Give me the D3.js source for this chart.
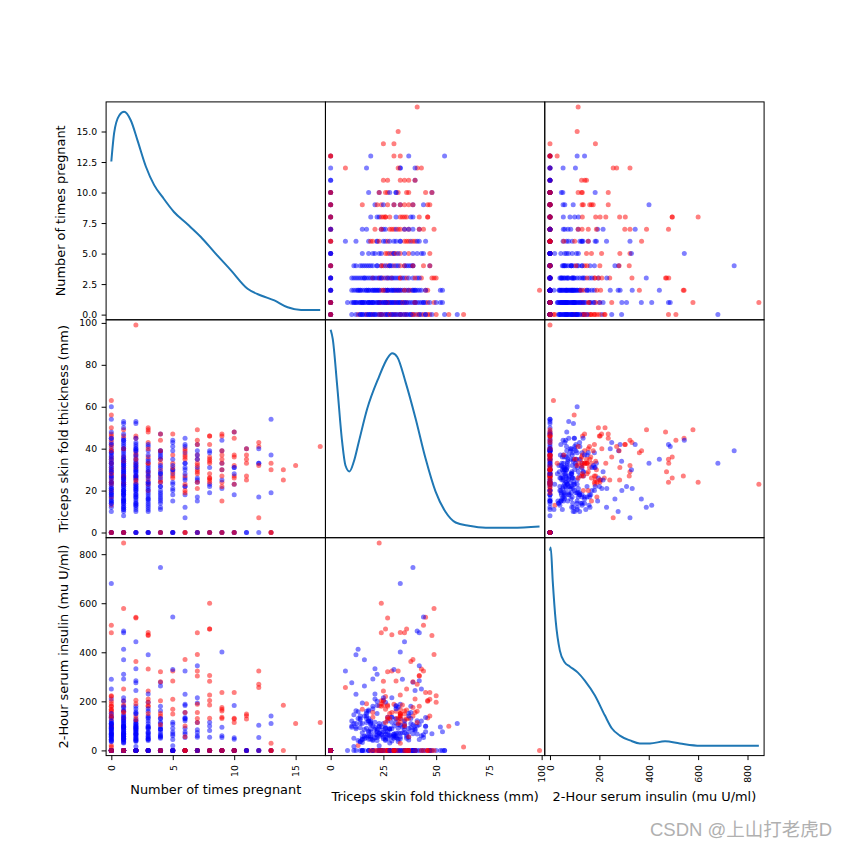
<!DOCTYPE html>
<html><head><meta charset="utf-8">
<script src="https://cdn.jsdelivr.net/npm/d3@7/dist/d3.min.js"></script>
<style>body{margin:0;background:#fff}svg{display:block}</style>
</head><body><svg id="c" width="849" height="849"></svg>
<script>
// ---------------- DATA ----------------
const variables = ["Number of times pregnant", "Triceps skin fold thickness (mm)", "2-Hour serum insulin (mu U/ml)"];
const pregValues = [0,1,2,3,4,5,6,7,8,9,10,11,12,13,14,15,17];
const skinGroups = [
  [10,13,14,15,16,17,18,19,20,21,22,23,24,25,26,27,28,29,30,31,32,33,34,35,36,37,38,39,40,41,42,43,44,45,46,47,48,50,54,56,60,63,31,26,36,18,23,28,33,12,20,27,35,42,17,30,24,39,15,14,19,24,29,33,38,45,21,0,0,0,0,0,0],
  [8,10,11,12,13,14,15,16,17,18,19,20,21,22,23,23,24,25,26,27,28,29,30,31,32,33,34,35,36,37,38,39,40,41,42,43,44,45,46,47,49,50,52,53,16,19,22,27,30,34,25,12,15,18,24,29,35,20,31,40,27,14,36,26,32,11,15,18,23,26,33,40,44,20,28,0,0,0,0,0,0],
  [10,12,13,14,15,17,18,19,20,21,22,23,24,25,26,27,28,29,30,31,32,33,34,35,36,38,39,40,41,42,43,45,46,52,53,99,16,20,26,29,33,37,11,23,18,22,27,30,35,40,25,31,14,37,13,17,21,27,32,39,45,0,0,0,0],
  [10,11,12,13,15,16,18,19,20,22,23,24,25,26,27,28,29,30,32,33,35,36,39,41,43,48,49,50,17,21,31,14,24,29,37,33,20,27,40,16,23,34,42,0,0,0,0],
  [11,12,15,16,18,20,22,24,24,25,27,28,30,33,35,37,38,39,39,39,44,47,47,22,29,32,19,14,26,31,35,17,28,36,0,0,0,0],
  [18,21,23,26,28,29,30,30,31,33,37,39,43,44,47,24,27,41,20,35,15,32,0,0,0,0],
  [7,12,18,19,22,22,26,27,28,30,31,33,35,36,38,39,40,41,42,45,23,20,33,25,37,0,0,0],
  [15,17,21,25,26,28,30,31,32,33,39,42,42,44,35,49,37,37,24,24,35,29,0,0,0,0],
  [19,23,24,25,26,26,28,31,33,34,36,38,39,42,46,35,46,22,0,0,0,0],
  [15,21,22,24,25,27,30,30,33,33,35,37,39,39,44,46,47,0,0,0,0],
  [18,23,23,26,27,28,31,32,36,37,45,48,48,31,0,0,0,0],
  [25,27,33,35,37,40,40,0,0],
  [7,17,33,33,41,40,32,43,0],
  [19,30,33,37,54,0,0,0],
  [25,30],
  [32],
  [41]
];
const insulinGroups = [
  [120,20,140,0,58,190,0,105,135,210,62,0,480,54,220,0,150,88,0,130,45,680,290,0,165,75,110,0,100,160,180,250,510,0,200,0,68,223,0,98,110,14,0,90,0,120,70,0,168,94,40,135,85,105,150,66,180,140,110,35,45,82,38,55,92,76,66,0,0,0,0,0,0],
  [0,100,145,0,412,36,0,370,160,0,56,291,85,310,846,0,202,48,0,120,64,215,0,160,70,130,94,0,250,42,180,105,0,487,480,60,0,99,132,0,579,0,0,76,140,120,200,0,50,0,110,88,72,165,66,135,96,44,112,155,185,125,58,94,176,50,32,78,58,44,70,86,64,100,30,0,0,0,0,0,0],
  [276,110,158,0,45,130,0,60,180,333,0,70,190,0,40,540,88,55,0,0,105,140,0,443,66,362,0,244,0,284,120,543,0,95,0,0,85,0,75,0,48,0,16,110,120,150,64,100,125,82,205,170,92,150,40,90,52,78,36,68,98,0,0,0,0],
  [94,0,390,130,55,0,160,76,0,40,182,0,242,196,180,88,472,58,0,481,120,0,0,100,332,468,0,196,140,230,70,110,64,135,90,150,170,48,210,48,96,72,44,0,0,0,0],
  [110,162,0,263,58,0,87,96,0,202,321,0,0,150,0,54,130,746,278,280,0,0,140,75,115,0,87,130,66,180,105,60,85,50,0,0,0,0],
  [75,115,19,168,60,324,330,0,283,148,0,0,0,544,209,0,0,67,0,107,44,90,0,0,0,0],
  [324,229,130,0,183,53,90,0,0,67,128,0,100,0,155,371,0,121,0,134,0,155,188,75,56,0,0,0],
  [193,114,0,215,54,0,188,60,130,114,84,345,303,324,480,391,0,0,0,0,73,155,0,0,0,0],
  [115,100,600,282,495,0,131,54,226,185,495,0,0,305,203,0,0,81,0,0,0,0],
  [168,94,0,0,0,135,60,0,401,130,161,0,0,175,53,0,236,0,0,0,0],
  [46,0,0,114,0,0,183,0,128,131,236,0,0,52,0,0,0,0],
  [0,128,141,148,0,0,0,0,0],
  [256,53,103,0,270,0,324,0,0],
  [110,0,29,140,0,0,0,0],
  [184,0],
  [110],
  [114]
];
const outcomeGroups = [
  [0,1,0,0,0,1,0,0,1,0,0,1,1,0,1,0,1,0,1,1,0,0,0,1,1,0,0,1,0,1,1,0,1,0,1,1,0,1,0,1,0,1,0,0,0,0,0,1,1,0,0,0,0,0,0,0,1,1,0,0,0,0,0,0,0,0,0,0,1,0,1,0,1],
  [0,0,0,0,0,0,0,0,0,0,0,0,0,0,1,0,1,0,1,0,0,0,0,1,0,0,0,0,1,0,0,0,1,0,0,0,0,0,1,0,1,0,0,0,0,0,0,0,0,1,0,0,0,0,0,0,0,0,0,1,1,0,0,0,0,0,0,0,0,0,0,0,0,0,0,0,1,0,1,0,1],
  [0,0,0,0,0,0,0,0,0,0,0,0,1,0,0,1,0,0,0,1,0,1,0,0,0,1,0,0,0,0,0,1,1,0,0,1,0,0,0,0,0,1,0,0,0,0,0,0,1,0,1,0,0,0,0,0,0,0,0,0,0,1,0,0,0],
  [0,0,0,0,0,0,0,0,1,0,1,0,1,0,1,0,1,0,0,1,0,1,0,0,1,1,1,1,0,0,0,0,0,0,0,1,0,0,1,0,0,0,0,1,0,0,0],
  [0,0,0,0,0,0,0,0,1,1,1,0,1,1,0,0,0,0,0,1,1,0,1,0,0,0,0,0,0,0,1,0,0,0,0,1,0,1],
  [0,0,0,1,0,1,0,0,1,1,1,0,0,0,1,0,1,0,0,0,0,0,1,0,0,0],
  [0,0,0,1,0,0,0,1,0,0,0,0,1,1,0,1,1,0,0,0,1,1,0,0,1,0,1,1],
  [0,0,1,0,0,1,1,0,1,1,0,0,1,1,1,1,1,0,0,1,0,1,1,0,1,0],
  [0,0,1,1,1,1,1,0,1,1,1,0,0,1,1,1,1,0,0,1,0,1],
  [1,0,1,1,0,1,0,1,0,1,1,1,0,1,0,1,1,0,1,0,1],
  [0,0,1,1,1,0,0,1,1,1,1,0,1,0,0,1,0,1],
  [1,1,1,1,1,0,1,0,0],
  [1,0,0,0,1,0,1,1,0],
  [0,1,1,0,0,0,1,1],
  [1,1],
  [1],
  [1]
];
// KDE curves (x in data units, y = density)
const pregKdeX = [0,0.23,0.64,1.04,1.59,2.13,2.81,3.49,4.16,5.1,6.2,7.29,8.38,9.74,11.09,12.18,13.27,14.35,15.44,17];
const pregKdeY = [0.123,0.146,0.160,0.163,0.156,0.140,0.119,0.104,0.0945,0.0824,0.0725,0.0623,0.0501,0.0354,0.0206,0.0152,0.0112,0.0057,0.0036,0.0036];
const skinKdeX = [0,0.99,3.08,5.45,7.02,8.92,10.96,13.33,17.32,22.82,26.81,29.18,31.56,35.5,40.25,44.99,49.74,54.48,59.23,65.5,73.5,86.1,99];
const skinKdeY = [0.0372,0.0355,0.0268,0.0162,0.0118,0.0107,0.0125,0.0162,0.0224,0.0283,0.0318,0.0328,0.0321,0.0274,0.0206,0.0131,0.0069,0.0031,0.00114,0.00052,0.00015,0.00015,0.00039];
const insKdeX = [0,3,11,23,40,60,80,113,141,182,222,251,283,324,364,405,466,526,608,689,770,846];
const insKdeY = [0.00445,0.00452,0.00377,0.00286,0.00218,0.00191,0.00182,0.00168,0.00150,0.00116,0.00071,0.00041,0.00025,0.00014,0.00007,0.00007,0.00012,0.00007,0.00002,0.00002,0.00002,0.00002];
const tickValues = [[0,2.5,5,7.5,10,12.5,15],[0,20,40,60,80,100],[0,200,400,600,800]];
const xTickValues = [[0,5,10,15],[0,25,50,75,100],[0,200,400,600,800]];
const classColors = ["#0000ff", "#ff0000"];
const watermark = "CSDN @上山打老虎D";

// ---------------- BUILD ----------------
const recPreg = [], recSkin = [], recIns = [], recOut = [];
pregValues.forEach((p, i) => {
  skinGroups[i].forEach((s, j) => {
    recPreg.push(p); recSkin.push(s); recIns.push(insulinGroups[i][j]); recOut.push(outcomeGroups[i][j]);
  });
});
const columns = [recPreg, recSkin, recIns];
const kdes = [[pregKdeX, pregKdeY], [skinKdeX, skinKdeY], [insKdeX, insKdeY]];

const W = 849, H = 849;
const padL = 106.1, padT = 101.9, pw = 219.33, ph = 217.9;
const n = 3;
const FONT = "'DejaVu Sans', sans-serif";

const svg = d3.select("#c");
svg.append("rect").attr("width", W).attr("height", H).attr("fill", "#fff");
const defs = svg.append("defs");

const bounds = columns.map(c => {
  const [mn, mx] = d3.extent(c);
  const pad = (mx - mn) * 0.05 / 2;
  return [mn - pad, mx + pad];
});
const xs = bounds.map((b, j) => d3.scaleLinear().domain(b).range([padL + j * pw, padL + (j + 1) * pw]));
const ys = bounds.map((b, i) => d3.scaleLinear().domain(b).range([padT + (i + 1) * ph, padT + i * ph]));

for (let i = 0; i < n; i++) {
  for (let j = 0; j < n; j++) {
    const id = `clip${i}${j}`;
    defs.append("clipPath").attr("id", id).append("rect")
      .attr("x", padL + j * pw).attr("y", padT + i * ph).attr("width", pw).attr("height", ph);
    const g = svg.append("g").attr("clip-path", `url(#${id})`);
    if (i === j) {
      const [kx, ky] = kdes[i];
      const [ymn, ymx] = d3.extent(ky);
      const r = ymx - ymn;
      const yk = d3.scaleLinear().domain([ymn - 0.05 * r, ymx + 0.05 * r]).range([padT + (i + 1) * ph, padT + i * ph]);
      const line = d3.line().x(d => xs[j](d[0])).y(d => yk(d[1])).curve(d3.curveMonotoneX);
      g.append("path").datum(kx.map((x, k) => [x, ky[k]]))
        .attr("d", line).attr("fill", "none").attr("stroke", "#1f77b4").attr("stroke-width", 2);
    } else {
      const idx = d3.range(recOut.length);
      g.selectAll("circle").data(idx).join("circle")
        .attr("cx", k => xs[j](columns[j][k]))
        .attr("cy", k => ys[i](columns[i][k]))
        .attr("r", 2.5)
        .attr("fill", k => classColors[recOut[k]])
        .attr("fill-opacity", 0.5);
    }
    svg.append("rect").attr("x", padL + j * pw).attr("y", padT + i * ph)
      .attr("width", pw).attr("height", ph).attr("fill", "none")
      .attr("stroke", "#000").attr("stroke-width", 1);
  }
}

// Left axes
for (let i = 0; i < n; i++) {
  const fmt = i === 0 ? d3.format(".1f") : d3.format("d");
  const ax = svg.append("g").attr("transform", `translate(${padL},0)`)
    .call(d3.axisLeft(ys[i]).tickValues(tickValues[i]).tickFormat(fmt).tickSize(4.5).tickPadding(4.5).tickSizeOuter(0));
  ax.select(".domain").remove();
  ax.selectAll("line").attr("stroke", "#000").attr("stroke-width", 1);
  ax.selectAll("text").attr("font-family", FONT).attr("font-size", 9.3).attr("fill", "#000");
  ax.attr("font-family", null).attr("font-size", null);
}
// Bottom axes
for (let j = 0; j < n; j++) {
  const ax = svg.append("g").attr("transform", `translate(0,${padT + n * ph})`)
    .call(d3.axisBottom(xs[j]).tickValues(xTickValues[j]).tickFormat(d3.format("d")).tickSize(4.5).tickPadding(4.5).tickSizeOuter(0));
  ax.select(".domain").remove();
  ax.selectAll("line").attr("stroke", "#000").attr("stroke-width", 1);
  ax.selectAll("text").attr("font-family", FONT).attr("font-size", 9.3).attr("fill", "#000")
    .attr("transform", "translate(0,9.5) rotate(-90)")
    .attr("x", 0).attr("y", 0).attr("dy", "0.35em").attr("text-anchor", "end");
  ax.attr("font-family", null).attr("font-size", null);
}

// Axis labels
const xLabelY = [794, 801, 801];
variables.forEach((v, j) => {
  svg.append("text").attr("x", padL + (j + 0.5) * pw).attr("y", xLabelY[j])
    .attr("text-anchor", "middle").attr("font-family", FONT).attr("font-size", 12.9).attr("fill", "#000").text(v);
});
const yLabelX = [65, 68, 68];
variables.forEach((v, i) => {
  svg.append("text").attr("transform", `translate(${yLabelX[i]},${padT + (i + 0.5) * ph}) rotate(-90)`)
    .attr("text-anchor", "middle").attr("font-family", FONT).attr("font-size", 12.9).attr("fill", "#000").text(v);
});

// Watermark
svg.append("text").attr("x", 650).attr("y", 836)
  .attr("font-family", "'Liberation Sans','Noto Sans CJK SC',sans-serif").attr("font-size", 18.5)
  .attr("fill", "#b0b0b0").text(watermark);
</script>
</body></html>
